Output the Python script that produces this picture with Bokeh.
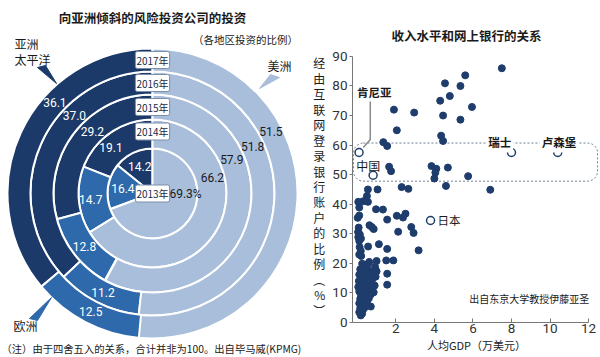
import math
from bokeh.plotting import figure
from bokeh.models import Range1d, Label, ColumnDataSource
from bokeh.layouts import row
from bokeh.embed import file_html
from bokeh.resources import INLINE
from bokeh.core.properties import value

# ---------------- data: donut (share of VC investment by region, %) ----------------
years = ["2013年", "2014年", "2015年", "2016年", "2017年"]
asia_pacific = [14.2, 19.1, 29.2, 37.0, 36.1]
europe = [16.4, 14.7, 12.8, 11.2, 12.5]
americas = [69.3, 66.2, 57.9, 51.8, 51.5]

# ---------------- data: scatter (GDP per capita in 10k USD, online banking %) -------
gdp = [7.5, 5.6, 4.55, 5.35, 4.8, 4.3, 1.9, 2.95, 5.95, 4.45, 5.35, 2.05, 4.35, 4.45,
       1.35, 1.55, 1.65, 1.75, 3.85, 4.1, 4.05, 4.7, 4.0, 5.75, 2.3, 4.6, 2.65, 0.55,
       1.05, 6.9,
       0.5, 0.3, 0.05, 0.55, 0.1, 0.97, 1.33, 0.02, 0.1, 1.55, 2.05, 2.37, 2.5, 2.12,
       2.8, 2.92, 0.63, 0.75, 0.85, 0.07, 0.04, 0.13, 0.05, 0.19, 0.1,
       3.18, 1.12, 0.56, 1.55, 0.12, 0.18, 0.1, 0.2, 1.5, 1.87, 1.0, 0.62, 0.25,
       0.3, 0.45, 0.15, 0.6, 0.25, 0.5, 0.7, 0.1, 0.35, 0.55, 0.8, 0.2, 0.45, 0.65,
       0.3, 0.15, 0.5, 0.75, 0.25, 0.4, 0.6, 0.1, 0.3, 0.5, 0.7, 0.2, 0.4, 0.6,
       0.15, 0.35, 0.25, 0.5, 0.1, 0.3, 0.2, 0.4, 0.15, 0.3, 0.2, 0.1, 0.25, 0.18,
       0.7, 0.85, 0.9, 0.95, 1.0, 0.92, 1.55, 1.55, 0.55, 0.8, 0.65, 0.35, 0.05, 0.08]
share = [86.0, 83.6, 80.9, 80.0, 76.6, 75.0, 72.0, 71.0, 72.9, 70.0, 68.6, 65.0, 63.2,
         61.4, 61.0, 59.7, 52.7, 51.2, 52.9, 52.0, 50.7, 52.4, 48.7, 49.5, 45.8, 46.2,
         45.2, 45.0, 45.0, 44.9,
         42.8, 41.0, 40.8, 40.8, 38.9, 38.3, 38.2, 35.4, 36.2, 34.8, 36.1, 35.5, 36.8,
         30.7, 32.3, 30.3, 32.9, 32.3, 31.6, 32.1, 30.6, 29.8, 28.9, 28.4, 27.6,
         24.4, 26.5, 25.7, 24.9, 25.5, 24.2, 23.0, 22.5, 21.0, 21.0, 20.8, 20.5, 19.9,
         19.0, 18.3, 18.0, 17.5, 17.0, 16.5, 16.0, 16.2, 15.5, 15.0, 14.8, 14.5, 14.0,
         13.5, 13.2, 12.8, 12.3, 12.0, 11.5, 11.0, 10.8, 10.5, 10.0, 9.6, 9.5, 9.0,
         8.5, 8.2, 8.0, 7.5, 7.0, 6.8, 6.5, 6.0, 5.5, 5.2, 4.8, 4.4, 4.0, 3.5, 3.0,
         2.4, 5.4, 10.2, 12.5, 15.5, 17.3, 18.8, 16.5, 12.8, 19.8, 16.8, 11.5, 17.8,
         12.0, 14.0]
hl_names = ["肯尼亚", "中国", "日本", "瑞士", "卢森堡"]
hl_gdp = [0.09, 0.82, 3.8, 8.0, 10.4]
hl_share = [57.5, 49.8, 34.5, 57.5, 57.5]
x_ticks = [2, 4, 6, 8, 10, 12]
y_ticks = [0, 10, 20, 30, 40, 50, 60, 70, 80, 90]

# ---------------- styles ----------------
CJK = "Noto Sans CJK SC"
NUM = "Roboto"
C_ASIA, C_EUR, C_AM = "#1c3a69", "#2d69ab", "#a8bedb"
C_DOT = "#1e3d6c"
C_TXT = "#1a1a1a"

# ================= left: concentric donut =================
W1, H1 = 310, 357


def PY(py):
    return H1 - py


p1 = figure(width=W1, height=H1, x_range=Range1d(0, W1), y_range=Range1d(0, H1),
            output_backend="svg", toolbar_location=None, min_border=0,
            x_axis_type=None, y_axis_type=None, outline_line_color=None)
p1.grid.visible = False
p1.frame_align = False

cx, cy = 152, PY(193)
ring_r = [0, 45, 74, 99, 122, 145]
label_r = [30, 62, 86.5, 110.5, 133.5]
asia_ang = [115, 132, 134, 135, 137]
am_ang = [0, 15, 23.5, 25, 27.5]
am_r0 = 33  # radius of the 2013 Americas label (right of the centre year box)

wd = dict(x=[], y=[], ri=[], ro=[], a0=[], a1=[], c=[])
lab = dict(x=[], y=[], t=[], c=[])
for i in range(len(years)):
    a = asia_pacific[i] * 2 * math.pi / 100
    e = europe[i] * 2 * math.pi / 100
    m = americas[i] * 2 * math.pi / 100
    base = math.pi / 2
    for s, t, col in [(base, base + a, C_ASIA), (base + a, base + a + e, C_EUR),
                      (base - m, base, C_AM)]:
        wd["x"].append(cx); wd["y"].append(cy)
        wd["ri"].append(ring_r[i]); wd["ro"].append(ring_r[i + 1])
        wd["a0"].append(s); wd["a1"].append(t); wd["c"].append(col)
    r = label_r[i]
    eur_mid = 90 + 3.6 * (asia_pacific[i] + europe[i] / 2)
    for ang, v, col, suf, rr in [(asia_ang[i], asia_pacific[i], "white", "", r),
                                 (eur_mid, europe[i], "white", "", r),
                                 (am_ang[i], americas[i], C_TXT, "%" if i == 0 else "",
                                  am_r0 if i == 0 else r)]:
        lab["x"].append(cx + rr * math.cos(math.radians(ang)))
        lab["y"].append(cy + rr * math.sin(math.radians(ang)))
        lab["t"].append(f"{v:.1f}{suf}")
        lab["c"].append(col)

p1.annular_wedge(x="x", y="y", inner_radius="ri", outer_radius="ro",
                 start_angle="a0", end_angle="a1", direction="anticlock",
                 fill_color="c", line_color="white", line_width=2,
                 source=ColumnDataSource(wd))
p1.text(x="x", y="y", text="t", text_color="c", source=ColumnDataSource(lab),
        text_font=value(NUM), text_font_size="12px", text_align="center",
        text_baseline="middle")

for i, yr in enumerate(years):
    yy = cy + (0 if i == 0 else label_r[i])
    p1.add_layout(Label(x=cx, y=yy, text=yr, text_font=CJK, text_font_size="10px",
                        text_color="#1a2a44", text_align="center", text_baseline="middle",
                        background_fill_color="white", border_line_color="#7d8ea8",
                        border_line_width=1, padding=1, border_radius=2))

# callout pointers
for pts, col in [([(37, 67), (45, 65), (56, 83)], C_ASIA),
                 ([(270, 74), (279, 77), (259, 88)], C_AM),
                 ([(29, 318), (37, 320), (51, 297)], C_EUR)]:
    p1.patch([q[0] for q in pts], [PY(q[1]) for q in pts], fill_color=col, line_color=col)

p1.text(x=[152], y=[PY(17)], text=["向亚洲倾斜的风险投资公司的投资"],
        text_font=value(CJK), text_font_size="12.5px", text_font_style="bold",
        text_color=C_TXT, text_align="center", text_baseline="middle")
p1.text(x=[245], y=[PY(39)], text=["（各地区投资的比例）"],
        text_font=value(CJK), text_font_size="10.5px", text_color=C_TXT,
        text_align="center", text_baseline="middle")
p1.text(x=[14, 14], y=[PY(43), PY(59)], text=["亚洲", "太平洋"],
        text_font=value(CJK), text_font_size="12px", text_color=C_TXT,
        text_align="left", text_baseline="middle")
p1.text(x=[279, 25], y=[PY(65), PY(325)], text=["美洲", "欧洲"],
        text_font=value(CJK), text_font_size="12px", text_color=C_TXT,
        text_align="center", text_baseline="middle")
p1.text(x=[1], y=[PY(348)], text=["（注）由于四舍五入的关系，合计并非为100。出自毕马威(KPMG)"],
        text_font=value(CJK), text_font_size="10.3px", text_color=C_TXT,
        text_align="left", text_baseline="middle")

# ================= right: scatter =================
W2, H2 = 290, 357
X0_PX, PX_PER_X = 353.9, 19.5      # page pixel of x=0
Y0_PX, PX_PER_Y = 322.0, 2.955     # page pixel of y=0


def X(px):
    return (px - X0_PX) / PX_PER_X


def YR(py):
    return (Y0_PX - py) / PX_PER_Y


p2 = figure(width=W2, height=H2, x_range=Range1d(-0.25, 12.62), y_range=Range1d(0, 92),
            output_backend="svg", toolbar_location=None,
            title="收入水平和网上银行的关系",
            min_border_left=39, min_border_right=0, min_border_top=50, min_border_bottom=35)
p2.frame_align = False
p2.title.align = "left"
p2.title.offset = 39
p2.title.standoff = 12
p2.title.text_font = CJK
p2.title.text_font_size = "12.5px"
p2.title.text_font_style = "bold"
p2.title.text_color = C_TXT
p2.grid.visible = False
p2.outline_line_color = None
for ax in (p2.xaxis, p2.yaxis):
    ax.axis_line_color = "#777777"
    ax.major_tick_line_color = "#777777"
    ax.minor_tick_line_color = None
    ax.major_label_text_font = NUM
    ax.major_label_text_font_size = "13.5px"
    ax.major_label_text_color = "#333333"
    ax.axis_label_text_font = CJK
    ax.axis_label_text_font_style = "normal"
    ax.axis_label_text_color = C_TXT
p2.xaxis.ticker = x_ticks
p2.yaxis.ticker = y_ticks
p2.xaxis.bounds = (-0.25, 12)
p2.yaxis.bounds = (0, 90)
p2.xaxis.major_tick_in = 4
p2.xaxis.major_tick_out = 0
p2.xaxis.major_label_standoff = 1
p2.yaxis.major_tick_in = 0
p2.yaxis.major_tick_out = 3
p2.yaxis.major_label_standoff = 2
p2.xaxis.axis_label = "人均GDP（万美元）"
p2.xaxis.axis_label_text_font_size = "11px"
p2.xaxis.axis_label_standoff = 1
p2.yaxis.axis_label = "\n".join("经由互联网登录银行账户的比例") + "\n︵\n%\n︶"
p2.yaxis.axis_label_orientation = "horizontal"
p2.yaxis.axis_label_text_font_size = "12px"
p2.yaxis.axis_label_text_line_height = 0.91
p2.yaxis.axis_label_standoff = 4

# dotted rounded box for the highlighted group
p2.quad(left=[X(350)], right=[X(597)], top=[60.7], bottom=[47.8], fill_color=None,
        line_color="#6d7f96", line_dash="2 2", line_width=1, border_radius=10)
# Kenya leader line
p2.line([X(367), X(367), X(360)], [YR(101), YR(139), YR(147)], line_color="#8a8a8a",
        line_width=1.5)

p2.scatter(gdp, share, size=7, fill_color=C_DOT, line_color=C_DOT)
p2.scatter(hl_gdp, hl_share, size=8, fill_color="white", line_color=C_DOT, line_width=1.5)


def lbl(px, py, text, size, bold=False, align="center", bg=None):
    kw = dict(x=X(px), y=YR(py), text=text, text_font=CJK, text_font_size=size,
              text_color=C_TXT, text_align=align, text_baseline="middle",
              text_font_style="bold" if bold else "normal")
    if bg:
        kw.update(background_fill_color=bg, padding=2)
    p2.add_layout(Label(**kw))


lbl(371, 92, hl_names[0], "11.5px", bold=True)
lbl(365, 165, hl_names[1], "12px")
lbl(435, 220, hl_names[2], "11.5px", align="left")
lbl(498, 142, hl_names[3], "11.5px", bold=True, bg="white")
lbl(558, 142, hl_names[4], "11.5px", bold=True, bg="white")
lbl(528, 298, "出自东京大学教授伊藤亚圣", "10px")

layout = row(p1, p2)
open("out.html", "w").write(file_html(layout, INLINE))
